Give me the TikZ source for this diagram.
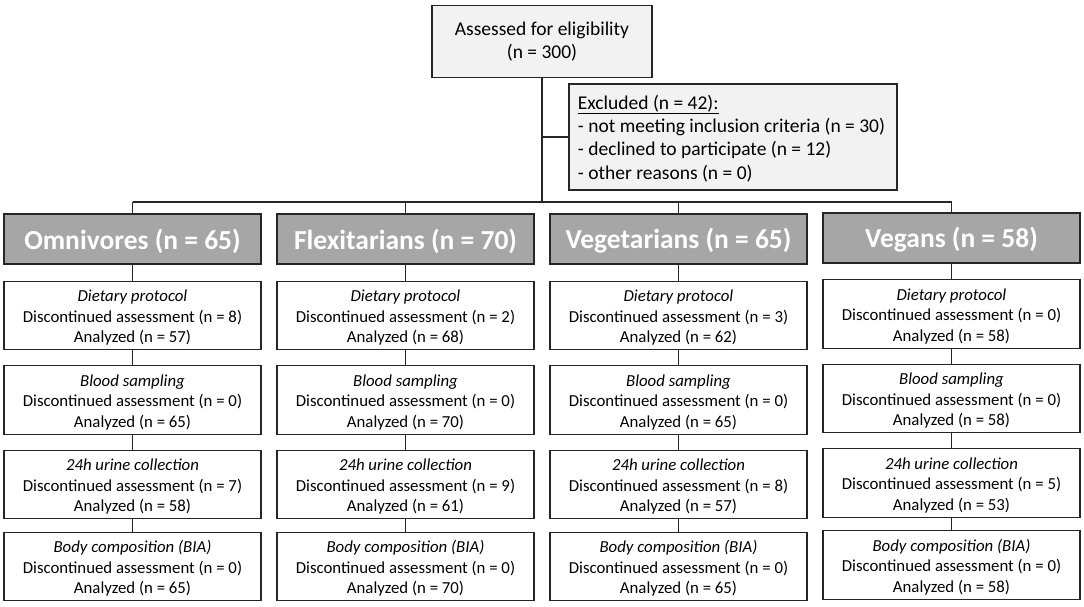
\documentclass[tikz,border=0pt]{standalone}
\usepackage{fontspec}
\setmainfont{Carlito}
\definecolor{hdr}{HTML}{A6A6A6}
\definecolor{lite}{HTML}{F2F2F2}
\definecolor{ln}{HTML}{262626}
\newcommand{\stxt}[3]{\raisebox{-2.5pt}[\height][\depth]{\begin{tabular}{@{}c@{}}\textit{#1}\\Discontinued assessment (n = #2)\\Analyzed (n = #3)\end{tabular}}}
\newcommand{\htxt}[1]{\raisebox{-2pt}[\height][\depth]{#1}}
\begin{document}
\begin{tikzpicture}[x=1pt,y=-1pt,
  subbox/.style={draw=ln, line width=1.2pt, fill=white, minimum width=257pt, minimum height=68.5pt, inner sep=0pt, align=center, font=\fontsize{16.8}{20.5}\selectfont},
  hdrbox/.style={draw=ln, line width=1.2pt, fill=hdr, minimum width=257pt, minimum height=50pt, inner sep=0pt, text=white, font=\fontsize{27.5}{30}\selectfont\bfseries},
  litebox/.style={draw=ln, line width=1.2pt, fill=lite, inner sep=0pt, font=\fontsize{19.5}{23.3}\selectfont},
  conn/.style={draw=ln, line width=1.2pt}]
\useasboundingbox (0,0) rectangle (1084,606);

% top
\node[litebox, minimum width=220pt, minimum height=72pt, align=center] (top) at (542,41.5) {Assessed for eligibility\\(n = 300)};
\node[litebox, minimum width=328pt, minimum height=106pt] (excl) at (733,137)
  {\raisebox{-2.5pt}[\height][\depth]{\hspace*{-1.5pt}\begin{tabular}{@{}l@{}}\underline{Excluded (n = 42):}\\- not meeting inclusion criteria (n = 30)\\- declined to participate (n = 12)\\- other reasons (n = 0)\end{tabular}\hspace*{1.5pt}}};
\coordinate (jn) at (542,202);

% headers
\node[hdrbox] (h1) at (132.5,239) {\htxt{Omnivores (n = 65)}};
\node[hdrbox] (h2) at (405.5,239) {\htxt{Flexitarians (n = 70)}};
\node[hdrbox] (h3) at (678.5,239) {\htxt{Vegetarians (n = 65)}};
\node[hdrbox] (h4) at (951.5,238) {\htxt{Vegans (n = 58)}};

% column 1
\node[subbox] (d1) at (132.5,315.5) {\stxt{Dietary protocol}{8}{57}};
\node[subbox] (b1) at (132.5,400) {\stxt{Blood sampling}{0}{65}};
\node[subbox] (u1) at (132.5,484.5) {\stxt{24h urine collection}{7}{58}};
\node[subbox] (c1) at (132.5,566.5) {\stxt{Body composition (BIA)}{0}{65}};
% column 2
\node[subbox] (d2) at (405.5,315.5) {\stxt{Dietary protocol}{2}{68}};
\node[subbox] (b2) at (405.5,400) {\stxt{Blood sampling}{0}{70}};
\node[subbox] (u2) at (405.5,484.5) {\stxt{24h urine collection}{9}{61}};
\node[subbox] (c2) at (405.5,566.5) {\stxt{Body composition (BIA)}{0}{70}};
% column 3
\node[subbox] (d3) at (678.5,315.5) {\stxt{Dietary protocol}{3}{62}};
\node[subbox] (b3) at (678.5,400) {\stxt{Blood sampling}{0}{65}};
\node[subbox] (u3) at (678.5,484.5) {\stxt{24h urine collection}{8}{57}};
\node[subbox] (c3) at (678.5,566.5) {\stxt{Body composition (BIA)}{0}{65}};
% column 4
\node[subbox] (d4) at (951.5,314) {\stxt{Dietary protocol}{0}{58}};
\node[subbox] (b4) at (951.5,398.5) {\stxt{Blood sampling}{0}{58}};
\node[subbox] (u4) at (951.5,483) {\stxt{24h urine collection}{5}{53}};
\node[subbox] (c4) at (951.5,565) {\stxt{Body composition (BIA)}{0}{58}};

% connectors
\draw[conn] (top.south) -- (jn);
\draw[conn] (top.south |- excl.west) -- (excl.west);
\draw[conn] (h1.north |- jn) -- (h4.north |- jn);
\foreach \i in {1,2,3,4}{
  \draw[conn] (h\i.north |- jn) -- (h\i.north);
  \draw[conn] (h\i.south) -- (d\i.north);
  \draw[conn] (d\i.south) -- (b\i.north);
  \draw[conn] (b\i.south) -- (u\i.north);
  \draw[conn] (u\i.south) -- (c\i.north);
}
\end{tikzpicture}
\end{document}
